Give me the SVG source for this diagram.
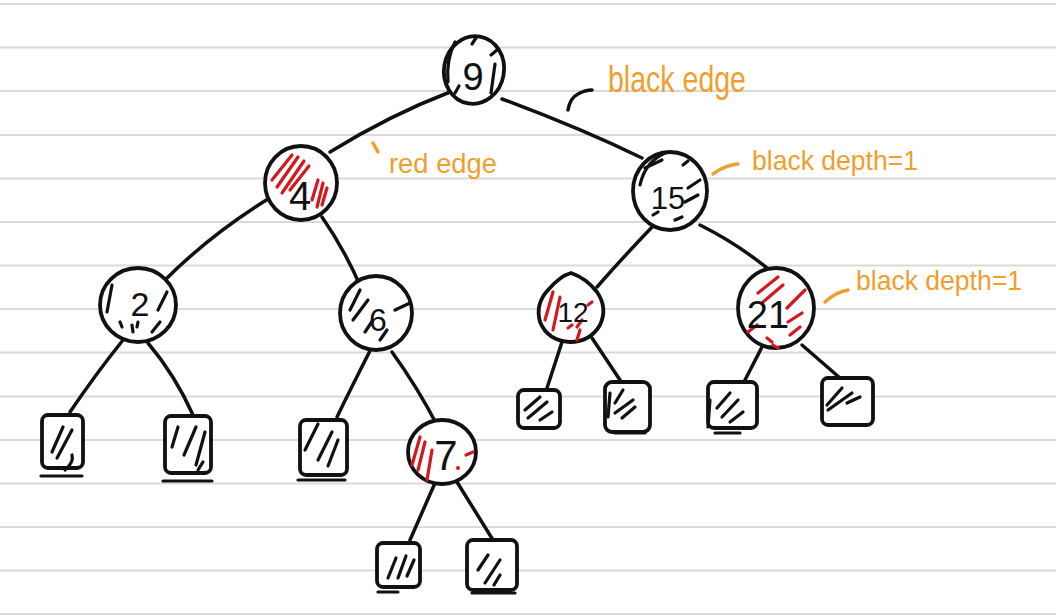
<svg xmlns="http://www.w3.org/2000/svg" width="1056" height="616" viewBox="0 0 1056 616">
<style>
.rule{stroke:#dadada;stroke-width:2}
.edge{fill:none;stroke:#111;stroke-width:3.5;stroke-linecap:round;stroke-linejoin:round}
.node{fill:#fff;stroke:#111;stroke-width:3.8}
.leaf{fill:#fff;stroke:#111;stroke-width:3.8;stroke-linejoin:round}
.hb{fill:none;stroke:#111;stroke-width:3.2;stroke-linecap:round}
.hr{fill:none;stroke:#d4181e;stroke-width:3.2;stroke-linecap:round}
.num{font-family:"Liberation Sans",sans-serif;fill:#111;text-anchor:middle}
.note{font-family:"Liberation Sans",sans-serif;fill:#ef9f2e}
.lead{fill:none;stroke:#ef9f2e;stroke-width:3.5;stroke-linecap:round}
</style>
<rect width="1056" height="616" fill="#fff"/>
<g id="paper">
<line class="rule" x1="0" y1="4" x2="1056" y2="4"/>
<line class="rule" x1="0" y1="47.5" x2="1056" y2="47.5"/>
<line class="rule" x1="0" y1="91" x2="1056" y2="91"/>
<line class="rule" x1="0" y1="135" x2="1056" y2="135"/>
<line class="rule" x1="0" y1="178.5" x2="1056" y2="178.5"/>
<line class="rule" x1="0" y1="222" x2="1056" y2="222"/>
<line class="rule" x1="0" y1="265.5" x2="1056" y2="265.5"/>
<line class="rule" x1="0" y1="309" x2="1056" y2="309"/>
<line class="rule" x1="0" y1="352.5" x2="1056" y2="352.5"/>
<line class="rule" x1="0" y1="396.5" x2="1056" y2="396.5"/>
<line class="rule" x1="0" y1="440" x2="1056" y2="440"/>
<line class="rule" x1="0" y1="483.5" x2="1056" y2="483.5"/>
<line class="rule" x1="0" y1="527" x2="1056" y2="527"/>
<line class="rule" x1="0" y1="570.5" x2="1056" y2="570.5"/>
<line class="rule" x1="0" y1="614" x2="1056" y2="614"/>
</g>
<g id="connectors">
<path class="edge" d="M450 92 Q390 115 330 152"/>
<path class="edge" d="M502 99 Q580 128 642 158"/>
<path class="edge" d="M268 199 Q210 235 165 280"/>
<path class="edge" d="M322 217 Q345 250 362 290"/>
<path class="edge" d="M123 340 Q95 375 70 412"/>
<path class="edge" d="M148 343 Q175 375 193 415"/>
<path class="edge" d="M372 347 Q355 380 337 417"/>
<path class="edge" d="M392 352 Q418 388 438 427"/>
<path class="edge" d="M435 483 L410 540"/>
<path class="edge" d="M457 482 L493 540"/>
<path class="edge" d="M655 224 Q625 255 597 287"/>
<path class="edge" d="M700 225 Q740 245 773 273"/>
<path class="edge" d="M562 342 L547 388"/>
<path class="edge" d="M592 338 L622 383"/>
<path class="edge" d="M763 345 L745 380"/>
<path class="edge" d="M802 345 L840 378"/>
</g>
<g id="node-9">
<ellipse class="node" cx="474" cy="70" rx="30" ry="34" transform="rotate(10 474 70)"/>
<path class="hb" d="M455 42 Q446 60 448 82 M472 44 L476 38 M491 55 L497 50 M495 64 L491 93 M459 86 L455 93"/>
<text class="num" x="473" y="90" font-size="38">9</text>
</g>
<g id="node-4">
<ellipse class="node" cx="301" cy="183" rx="36" ry="37"/>
<path class="hr" d="M292 155 L272 180 M298 157 L277 187 M304 161 L282 193 M309 166 L290 190 M318 180 L312 200 M323 183 L317 207 M327 188 L322 205"/>
<text class="num" x="300" y="210" font-size="40">4</text>
</g>
<g id="node-15">
<ellipse class="node" cx="670" cy="191" rx="37" ry="39"/>
<path class="hb" d="M640 185 Q645 162 665 153 M645 168 L662 160 M683 165 L688 161 M688 188 L700 180 M685 202 L698 195 M675 220 L682 217 M653 215 L658 212"/>
<text class="num" x="668" y="209" font-size="31">15</text>
</g>
<g id="node-2">
<ellipse class="node" cx="138" cy="305" rx="38" ry="37"/>
<path class="hb" d="M112 285 L107 312 M120 322 L122 327 M132 325 L133 332 M138 322 L137 327 M152 332 L160 322 M158 310 L167 292"/>
<text class="num" x="140" y="316" font-size="34">2</text>
</g>
<g id="node-6">
<ellipse class="node" cx="376" cy="313" rx="36" ry="37"/>
<path class="hb" d="M350 310 L360 290 M353 320 L368 300 M365 332 L373 320 M380 340 L387 330 M395 310 L410 303"/>
<text class="num" x="378" y="331" font-size="32">6</text>
</g>
<g id="node-12">
<path class="node" d="M571 273 Q586 278 597 292 Q608 308 600 325 Q590 342 570 342 Q548 341 540 322 Q535 304 548 290 Q560 276 571 273 Z"/>
<path class="hr" d="M553 292 L545 320 M560 297 L553 330 M588 305 L592 302 M582 320 L577 327 M568 328 L572 325 M580 330 L577 340"/>
<text class="num" x="573" y="322" font-size="28">12</text>
</g>
<g id="node-21">
<ellipse class="node" cx="776" cy="308" rx="38" ry="40"/>
<path class="hr" d="M758 293 L778 277 M763 302 L783 285 M787 308 L805 290 M788 322 L802 313 M790 335 L800 327 M748 332 L757 325 M767 338 L772 342 M773 345 L778 348"/>
<text class="num" x="768" y="328" font-size="38">21</text>
</g>
<g id="node-7">
<ellipse class="node" cx="442" cy="452" rx="34" ry="32"/>
<path class="hr" d="M420 437 L412 465 M425 442 L418 470 M432 450 L427 480 M466 455 L473 452"/>
<circle cx="458" cy="468" r="2" fill="#d4181e"/>
<text class="num" x="446" y="470" font-size="42">7</text>
</g>
<g id="leaf-2L">
<rect class="leaf" x="42" y="415" width="41" height="53" rx="6"/>
<path class="hb" d="M52 452 L63 427 M57 458 L72 430 M65 470 Q74 462 72 455 M41 476 L82 476"/>
</g>
<g id="leaf-2R">
<rect class="leaf" x="165" y="416" width="46" height="57" rx="6"/>
<path class="hb" d="M172 447 L178 427 M184 455 L196 427 M196 465 L205 432 M198 470 L203 462 M163 481 L212 481"/>
</g>
<g id="leaf-6L">
<rect class="leaf" x="300" y="420" width="47" height="55" rx="6"/>
<path class="hb" d="M305 450 L318 424 M318 460 L332 432 M328 466 L338 440 M298 480 L345 480"/>
</g>
<g id="leaf-7L">
<rect class="leaf" x="377" y="543" width="43" height="44" rx="6"/>
<path class="hb" d="M388 578 L396 558 M398 578 L406 556 M407 576 L414 560 M378 592 L398 592"/>
</g>
<g id="leaf-7R">
<rect class="leaf" x="467" y="540" width="50" height="50" rx="6"/>
<path class="hb" d="M478 570 L488 555 M485 583 L500 560 M494 585 L500 575 M472 593 L515 593"/>
</g>
<g id="leaf-12L">
<rect class="leaf" x="518" y="390" width="42" height="38" rx="6"/>
<path class="hb" d="M525 410 L540 397 M528 418 L547 402 M540 420 L552 412"/>
</g>
<g id="leaf-12R">
<rect class="leaf" x="605" y="382" width="45" height="50" rx="7"/>
<path class="hb" d="M610 393 L608 417 M615 403 L623 390 M615 413 L633 400 M622 418 L635 407 M615 433 L645 433"/>
</g>
<g id="leaf-21L">
<rect class="leaf" x="708" y="382" width="49" height="46" rx="6"/>
<path class="hb" d="M717 408 L730 393 M722 417 L738 400 M730 422 L743 412 M710 400 L708 427 M715 433 L740 433"/>
</g>
<g id="leaf-21R">
<rect class="leaf" x="822" y="378" width="51" height="47" rx="6"/>
<path class="hb" d="M827 405 L842 388 M828 410 L852 393 M847 403 L860 397"/>
</g>
<g id="annotations">
<path class="edge" d="M568 110 Q570 98 578 94 Q585 90 592 90" stroke-width="3"/>
<text class="note" x="608" y="92" font-size="36" textLength="138" lengthAdjust="spacingAndGlyphs">black edge</text>
<path class="lead" d="M373 143 L378 152"/>
<text class="note" x="389" y="173" font-size="28" textLength="108" lengthAdjust="spacingAndGlyphs">red edge</text>
<path class="lead" d="M713 174 Q725 165 738 164"/>
<text class="note" x="752" y="170" font-size="28" textLength="166" lengthAdjust="spacingAndGlyphs">black depth=1</text>
<path class="lead" d="M825 302 Q836 292 848 290"/>
<text class="note" x="856" y="290" font-size="28" textLength="166" lengthAdjust="spacingAndGlyphs">black depth=1</text>
</g>
</svg>
